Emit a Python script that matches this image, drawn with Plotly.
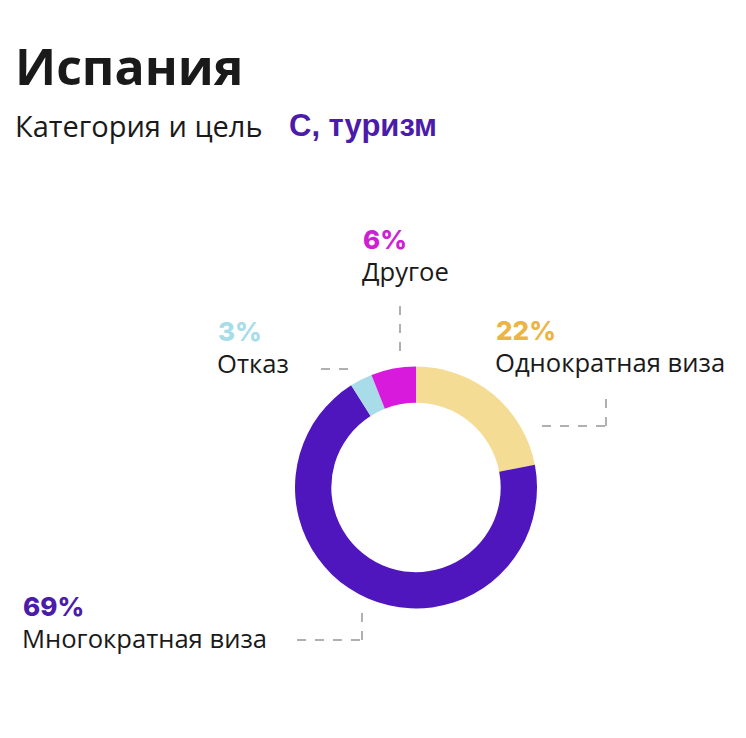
import plotly.graph_objects as go

W, H = 746, 738
# the page body adds a margin round the plot div
OX, OY = 9, 9

# chart data
labels = ['Однократная виза', 'Многократная виза', 'Отказ', 'Другое']
values = [22, 69, 3, 6]
slice_colors = ['#F5DC94', '#5016BE', '#A8DCE8', '#D81ADC']
pct_colors = ['#EBB445', '#4B1BAA', '#A8DCE8', '#D01ED4']

# where each label block sits (left x, cap-centre y of the % line) in pixels
label_pos = [(495, 331), (22, 607), (217, 333), (362, 240)]

# leader lines, pixel polylines
leaders = [
    [(543, 427), (607, 427), (607, 396)],
    [(298, 641), (363, 641), (363, 610)],
    [(322, 370), (354, 370)],
    [(401, 307), (401, 357)],
]


def px(x):
    return (x - OX) / W


def py(y):
    return 1 - (y - OY) / H


fig = go.Figure()

cx, cy, r = 417, 488.5, 121
fig.add_trace(go.Pie(
    labels=labels,
    values=values,
    marker=dict(colors=slice_colors, line=dict(width=0)),
    hole=0.70,
    sort=False,
    direction='clockwise',
    rotation=0,
    textinfo='none',
    hoverinfo='skip',
    showlegend=False,
    domain=dict(x=[px(cx - r), px(cx + r)], y=[py(cy + r), py(cy - r)]),
))

annotations = []
for lab, val, col, (x, y) in zip(labels, values, pct_colors, label_pos):
    annotations.append(dict(
        x=px(x), y=py(y), xref='paper', yref='paper',
        xanchor='left', yanchor='middle', showarrow=False,
        text=f'{val}%',
        font=dict(family='Inter, Roboto, sans-serif', size=26, color=col, weight=800),
    ))
    annotations.append(dict(
        x=px(x - 1), y=py(y + 32), xref='paper', yref='paper',
        xanchor='left', yanchor='middle', showarrow=False,
        text=lab,
        font=dict(family='Open Sans, sans-serif', size=25.6, color='#1a1a1a'),
    ))

# title + subtitle
annotations.append(dict(
    x=px(14), y=py(67), xref='paper', yref='paper',
    xanchor='left', yanchor='middle', showarrow=False,
    text='<b>Испания</b>',
    font=dict(family='Open Sans, sans-serif', size=50, color='#1a1a1a'),
))
annotations.append(dict(
    x=px(14), y=py(126), xref='paper', yref='paper',
    xanchor='left', yanchor='middle', showarrow=False,
    text='Категория и цель',
    font=dict(family='Open Sans, sans-serif', size=29, color='#1a1a1a'),
))
annotations.append(dict(
    x=px(288), y=py(126), xref='paper', yref='paper',
    xanchor='left', yanchor='middle', showarrow=False,
    text='<b>С, туризм</b>',
    font=dict(family='Liberation Sans, Arial, sans-serif', size=31, color='#4B1BAA'),
))

shapes = []
for line in leaders:
    for (x0, y0), (x1, y1) in zip(line[:-1], line[1:]):
        shapes.append(dict(
            type='line', xref='paper', yref='paper',
            x0=px(x0), y0=py(y0), x1=px(x1), y1=py(y1),
            line=dict(color='#B0B0B0', width=2, dash='dash'),
        ))

fig.update_layout(
    width=W, height=H,
    margin=dict(l=0, r=0, t=0, b=0),
    paper_bgcolor='white',
    plot_bgcolor='white',
    annotations=annotations,
    shapes=shapes,
)

fig.write_html('out.html')
